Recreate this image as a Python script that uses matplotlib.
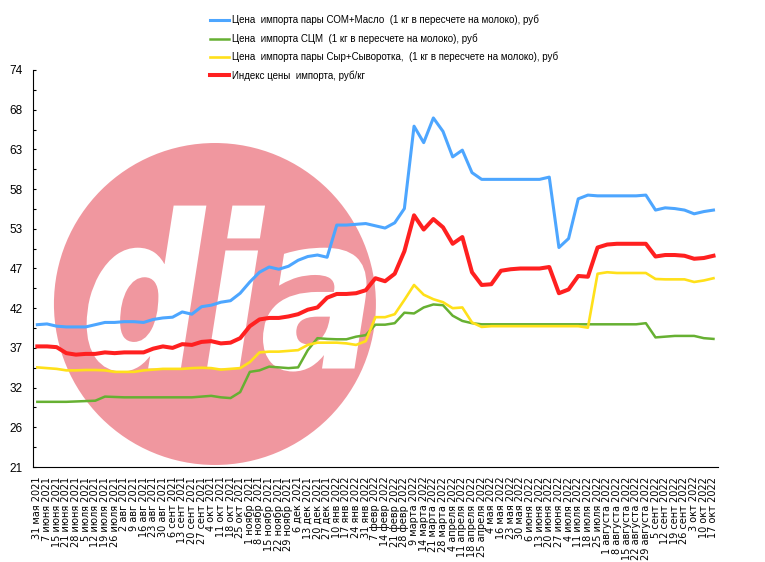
import numpy as np
import matplotlib.pyplot as plt
from matplotlib.patches import Ellipse, PathPatch
from matplotlib.textpath import TextPath
from matplotlib.font_manager import FontProperties
from matplotlib.transforms import Affine2D

plt.rcParams['font.family'] = ['Liberation Sans', 'DejaVu Sans']

# weekly dates (category axis)
dates = ['31 мая 2021', '7 июня 2021', '15 июня 2021', '21 июня 2021', '28 июня 2021',
         '5 июля 2021', '12 июля 2021', '19 июля 2021', '26 июля 2021',
         '2 авг 2021', '9 авг 2021', '16 авг 2021', '23 авг 2021', '30 авг 2021',
         '6 сент 2021', '13 сент 2021', '20 сент 2021', '27 сент 2021',
         '4 окт 2021', '11 окт 2021', '18 окт 2021', '25 окт 2021',
         '1 ноябр 2021', '8 ноябр 2021', '15 ноябр 2021', '22 ноябр 2021', '29 ноябр 2021',
         '6 дек 2021', '13 дек 2021', '20 дек 2021', '27 дек 2021',
         '10 янв 2022', '17 янв 2022', '24 янв 2022', '31 янв 2022',
         '7 февр 2022', '14 февр 2022', '21 февр 2022', '28 февр 2022',
         '9 марта 2022', '14 марта 2022', '21 марта 2022', '28 марта 2022',
         '4 апреля 2022', '11 апреля 2022', '18 апреля 2022', '25 апреля 2022',
         '4 мая 2022', '16 мая 2022', '23 мая 2022', '30 мая 2022',
         '6 июня 2022', '13 июня 2022', '20 июня 2022', '27 июня 2022',
         '4 июля 2022', '11 июля 2022', '18 июля 2022', '25 июля 2022',
         '1 августа 2022', '8 августа 2022', '15 августа 2022', '22 августа 2022', '29 августа 2022',
         '5 сент 2022', '12 сент 2022', '19 сент 2022', '26 сент 2022',
         '3 окт 2022', '10 окт 2022', '17 окт 2022']

# СОМ+Масло
som_butter = [40.0, 40.1, 39.8, 39.7, 39.7, 39.7, 40.0, 40.3, 40.3, 40.4,
              40.4, 40.3, 40.7, 40.9, 41.0, 41.7, 41.4, 42.4, 42.6, 43.0,
              43.2, 44.2, 45.7, 47.0, 47.7, 47.4, 47.8, 48.6, 49.1, 49.3,
              49.0, 53.3, 53.3, 53.4, 53.5, 53.2, 52.9, 53.6, 55.5, 66.5,
              64.3, 67.6, 65.8, 62.4, 63.3, 60.3, 59.4, 59.4, 59.4, 59.4,
              59.4, 59.4, 59.4, 59.7, 50.3, 51.5, 56.8, 57.3, 57.2, 57.2,
              57.2, 57.2, 57.2, 57.3, 55.3, 55.6, 55.5, 55.3, 54.8, 55.1,
              55.3]
# СЦМ
scm = [29.7, 29.7, 29.7, 29.7, 29.75, 29.8, 29.85, 30.4, 30.35, 30.3,
       30.3, 30.3, 30.3, 30.3, 30.3, 30.3, 30.3, 30.4, 30.5, 30.3,
       30.2, 31.0, 33.7, 33.9, 34.4, 34.3, 34.2, 34.3, 36.6, 38.2,
       38.1, 38.05, 38.05, 38.4, 38.6, 40.0, 40.0, 40.2, 41.6, 41.5,
       42.3, 42.7, 42.6, 41.2, 40.5, 40.2, 40.05, 40.05, 40.05, 40.05,
       40.05, 40.05, 40.05, 40.05, 40.05, 40.05, 40.05, 40.05, 40.05, 40.05,
       40.05, 40.05, 40.05, 40.2, 38.3, 38.4, 38.5, 38.5, 38.5, 38.2,
       38.1]
# Сыр+Сыворотка
cheese_whey = [34.3, 34.2, 34.1, 33.9, 33.9, 33.95, 33.95, 33.9, 33.7, 33.7,
               33.7, 33.9, 34.0, 34.1, 34.1, 34.1, 34.2, 34.25, 34.2, 34.0,
               34.1, 34.2, 35.0, 36.3, 36.4, 36.4, 36.5, 36.6, 37.3, 37.6,
               37.6, 37.6, 37.5, 37.3, 37.8, 41.0, 41.0, 41.4, 43.3, 45.3,
               44.0, 43.4, 43.0, 42.2, 42.3, 40.3, 39.7, 39.8, 39.8, 39.8,
               39.8, 39.8, 39.8, 39.8, 39.8, 39.8, 39.8, 39.6, 46.8, 47.0,
               46.9, 46.9, 46.9, 46.9, 46.1, 46.05, 46.05, 46.05, 45.7, 45.9,
               46.2]
# индекс цены импорта
price_index = [37.1, 37.1, 37.0, 36.2, 36.0, 36.1, 36.1, 36.3, 36.2, 36.3,
               36.3, 36.3, 36.8, 37.1, 36.9, 37.4, 37.3, 37.7, 37.8, 37.5,
               37.6, 38.2, 39.8, 40.7, 40.9, 40.9, 41.1, 41.4, 42.0, 42.3,
               43.6, 44.1, 44.1, 44.2, 44.6, 46.2, 45.8, 46.8, 49.8, 54.6,
               52.7, 54.1, 53.0, 50.8, 51.7, 47.0, 45.3, 45.4, 47.2, 47.4,
               47.5, 47.5, 47.5, 47.7, 44.2, 44.7, 46.5, 46.4, 50.3, 50.7,
               50.8, 50.8, 50.8, 50.8, 49.1, 49.3, 49.3, 49.2, 48.8, 48.9,
               49.2]

labels = ['Цена  импорта пары СОМ+Масло  (1 кг в пересчете на молоко), руб',
          'Цена  импорта СЦМ  (1 кг в пересчете на молоко), руб',
          'Цена  импорта пары Сыр+Сыворотка,  (1 кг в пересчете на молоко), руб',
          'Индекс цены  импорта, руб/кг']

y_ticks = [21, 26.3, 31.6, 36.9, 42.2, 47.5, 52.8, 58.1, 63.4, 68.7, 74]
y_ticklabels = ['21', '26', '32', '37', '42', '47', '53', '58', '63', '68', '74']

fig = plt.figure(figsize=(7.65, 5.62), dpi=100)
ax = fig.add_axes([32.5 / 765, 95 / 562, 685.8 / 765, 397 / 562])

# watermark
circ = Ellipse((0.266, 0.4106), 0.4695, 0.811, transform=ax.transAxes,
               facecolor='#F0979F', lw=0, zorder=1)
ax.add_patch(circ)
fp = FontProperties(family='DejaVu Sans', weight='bold', style='oblique')
tp = TextPath((0, 0), 'dia', size=1, prop=fp)
bb = tp.get_extents()
x0, x1, y0, y1 = 0.081, 0.485, 0.244, 0.655
tr = Affine2D().translate(-bb.x0, -bb.y0).scale((x1 - x0) / bb.width, (y1 - y0) / bb.height).translate(x0, y0)
ax.add_patch(PathPatch(tr.transform_path(tp), transform=ax.transAxes,
                       facecolor='white', edgecolor='white', lw=2, zorder=2))

x = np.arange(len(dates))
ax.plot(x, som_butter, color='#4DA6FF', lw=2.2, label=labels[0], zorder=3, solid_joinstyle='round')
ax.plot(x, scm, color='#66B032', lw=1.8, label=labels[1], zorder=3, solid_joinstyle='round')
ax.plot(x, cheese_whey, color='#FFE01A', lw=1.9, label=labels[2], zorder=3, solid_joinstyle='round')
ax.plot(x, price_index, color='#FF2020', lw=2.9, label=labels[3], zorder=3, solid_joinstyle='round')

ax.set_xlim(-0.5, len(dates) - 0.5)
ax.set_ylim(21, 74)
ax.set_yticks(y_ticks)
ax.set_yticklabels(y_ticklabels, fontsize=8.5)
ax.set_yticks([(a + b) / 2 for a, b in zip(y_ticks[:-1], y_ticks[1:])], minor=True)
ax.tick_params(axis='y', which='both', direction='in', length=2.4, width=0.8, pad=7)
ax.set_xticks(x)
ax.set_xticklabels(dates, rotation=90, fontsize=7, family='DejaVu Sans')
ax.tick_params(axis='x', length=0, pad=7)

ax.spines['top'].set_visible(False)
ax.spines['right'].set_visible(False)

fig.legend(loc='upper left', bbox_to_anchor=(210 / 765, 1 - 15 / 562), frameon=False,
           fontsize=7, handlelength=2.0, handletextpad=0.3, labelspacing=0.82,
           borderpad=0, borderaxespad=0)

fig.savefig('out.png', dpi=100)
